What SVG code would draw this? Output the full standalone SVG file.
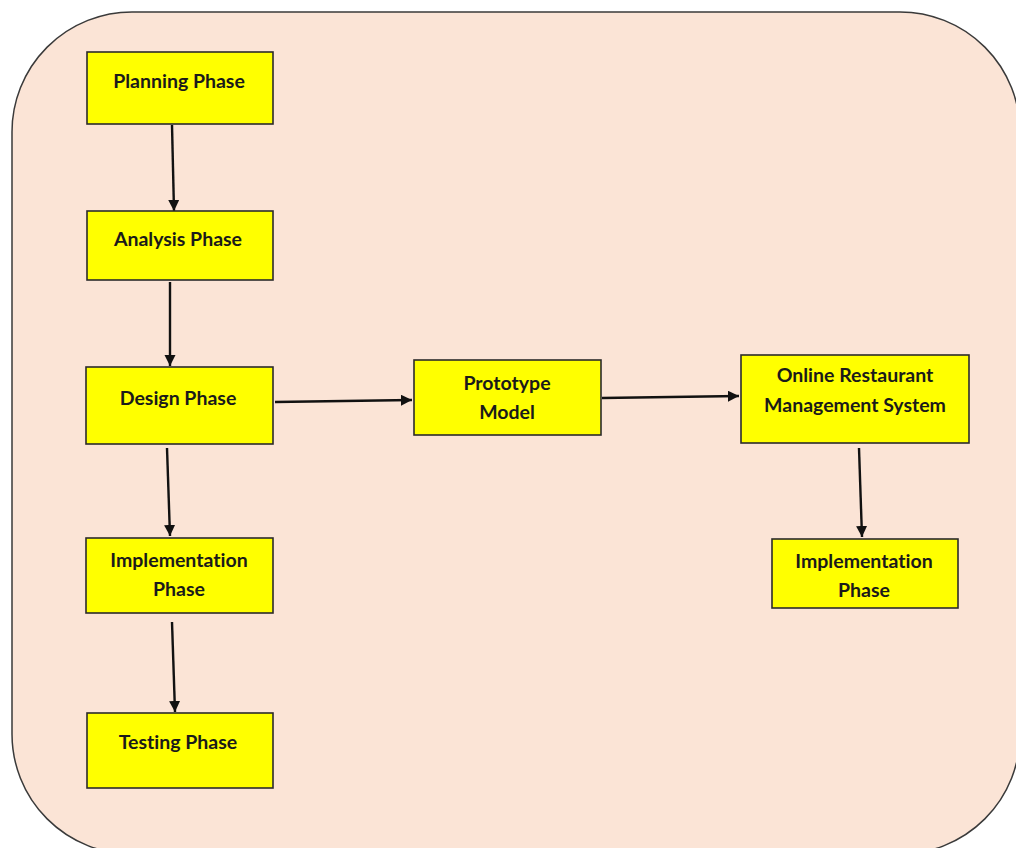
<svg xmlns="http://www.w3.org/2000/svg" width="1016" height="848" viewBox="0 0 1016 848">
<style>
.bg{fill:#FBE4D6;stroke:#3a3a3a;stroke-width:1.5}
.node rect{fill:#FFFF00;stroke:#2b2b2b;stroke-width:1.6}
.node text{font-family:Lato,"Open Sans","Liberation Sans",sans-serif;font-weight:bold;font-size:19.5px;fill:#1a1a1a;text-anchor:middle;font-variant-ligatures:none}
.conn line{stroke:#111;stroke-width:2.4;marker-end:url(#ah)}
</style>
<defs>
<marker id="ah" viewBox="0 0 10 10" refX="10" refY="5" markerWidth="4.6" markerHeight="4.6" orient="auto" markerUnits="strokeWidth">
<path d="M0,0 L10,5 L0,10 z" fill="#111"/>
</marker>
</defs>
<rect class="bg" x="12" y="12" width="1008" height="842" rx="120" ry="120"/>
<g id="connectors" class="conn">
<line x1="172" y1="125" x2="174" y2="211"/>
<line x1="170" y1="282" x2="170" y2="366"/>
<line x1="167" y1="448" x2="170" y2="536"/>
<line x1="172" y1="622" x2="175" y2="712"/>
<line x1="275" y1="402" x2="412" y2="400"/>
<line x1="602" y1="398" x2="739" y2="396"/>
<line x1="859" y1="448" x2="862" y2="537"/>
</g>
<g id="planning" class="node">
<rect x="87" y="52" width="186" height="72"/>
<text x="179" y="88">Planning Phase</text>
</g>
<g id="analysis" class="node">
<rect x="87" y="211" width="186" height="69"/>
<text x="178" y="246">Analysis Phase</text>
</g>
<g id="design" class="node">
<rect x="86" y="367" width="187" height="77"/>
<text x="178" y="405">Design Phase</text>
</g>
<g id="implementation-left" class="node">
<rect x="86" y="538" width="187" height="75"/>
<text x="179" y="567">Implementation</text>
<text x="179" y="596">Phase</text>
</g>
<g id="testing" class="node">
<rect x="87" y="713" width="186" height="75"/>
<text x="178" y="749">Testing Phase</text>
</g>
<g id="prototype" class="node">
<rect x="414" y="360" width="187" height="75"/>
<text x="507" y="390">Prototype</text>
<text x="507" y="419">Model</text>
</g>
<g id="orms" class="node">
<rect x="741" y="355" width="228" height="88"/>
<text x="855" y="382">Online Restaurant</text>
<text x="855" y="412">Management System</text>
</g>
<g id="implementation-right" class="node">
<rect x="772" y="539" width="186" height="69"/>
<text x="864" y="568">Implementation</text>
<text x="864" y="597">Phase</text>
</g>
</svg>
